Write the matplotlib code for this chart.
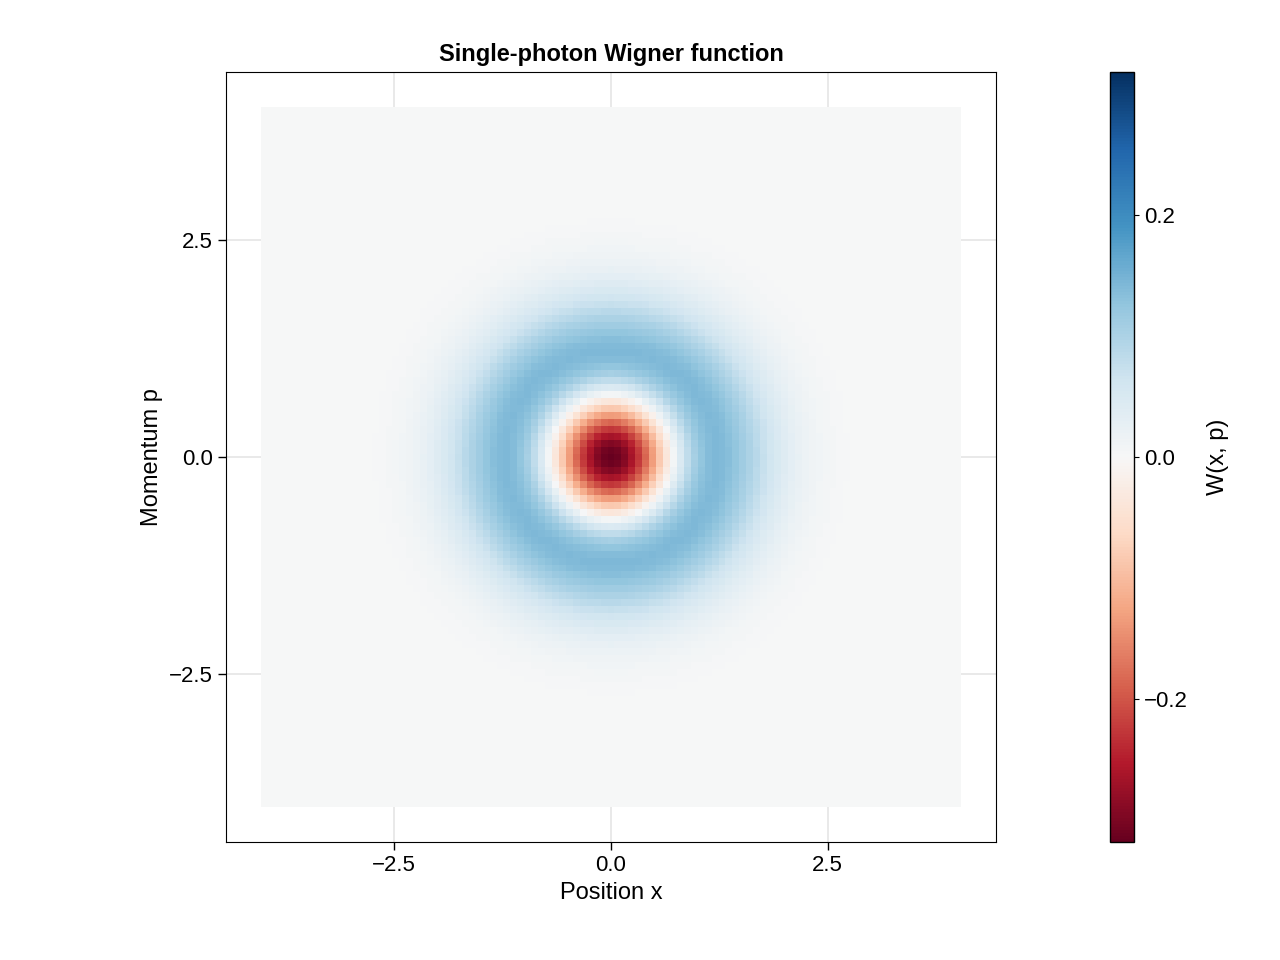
import matplotlib
matplotlib.use("Agg")
import matplotlib.pyplot as plt
import numpy as np

plt.rcParams['font.family'] = ['Liberation Sans', 'DejaVu Sans']
plt.rcParams['font.size'] = 16

# phase-space grid
x = np.linspace(-4, 4, 101)
p = np.linspace(-4, 4, 101)
X, P = np.meshgrid(x, p)
r2 = X**2 + P**2
# Wigner function of the one-photon Fock state
W = (2 * r2 - 1) * np.exp(-r2) / np.pi
vmax = np.abs(W).max()

fig = plt.figure(figsize=(12.8, 9.6), dpi=100)
ax = fig.add_axes([226 / 1280, 1 - 842 / 960, 770 / 1280, 770 / 960])
cax = fig.add_axes([1110 / 1280, 1 - 842 / 960, 24 / 1280, 770 / 960])

ax.grid(True, color='#e5e5e5', lw=1.2, zorder=0)
ax.set_axisbelow(True)
dx = x[1] - x[0]
mesh = ax.pcolormesh(np.append(x - dx / 2, x[-1] + dx / 2),
                     np.append(p - dx / 2, p[-1] + dx / 2),
                     W, cmap='RdBu', vmin=-vmax, vmax=vmax, zorder=1)
ax.set_xlim(-4.44, 4.44)
ax.set_ylim(-4.44, 4.44)
ticks = [-2.5, 0.0, 2.5]
ax.set_xticks(ticks, ['−2.5', '0.0', '2.5'])
ax.set_yticks(ticks, ['−2.5', '0.0', '2.5'])
ax.tick_params(length=6, width=1, color='black')
ax.set_xlabel('Position x', fontsize=17)
ax.set_ylabel('Momentum p', fontsize=17)
ax.set_title('Single-photon Wigner function', fontsize=17, fontweight='bold', pad=8)

cb = fig.colorbar(mesh, cax=cax)
cb.set_ticks([-0.2, 0.0, 0.2], labels=['−0.2', '0.0', '0.2'])
cb.set_label('W(x, p)', fontsize=17, labelpad=14)
cb.outline.set_linewidth(1)

fig.savefig('out.png', dpi=100)
